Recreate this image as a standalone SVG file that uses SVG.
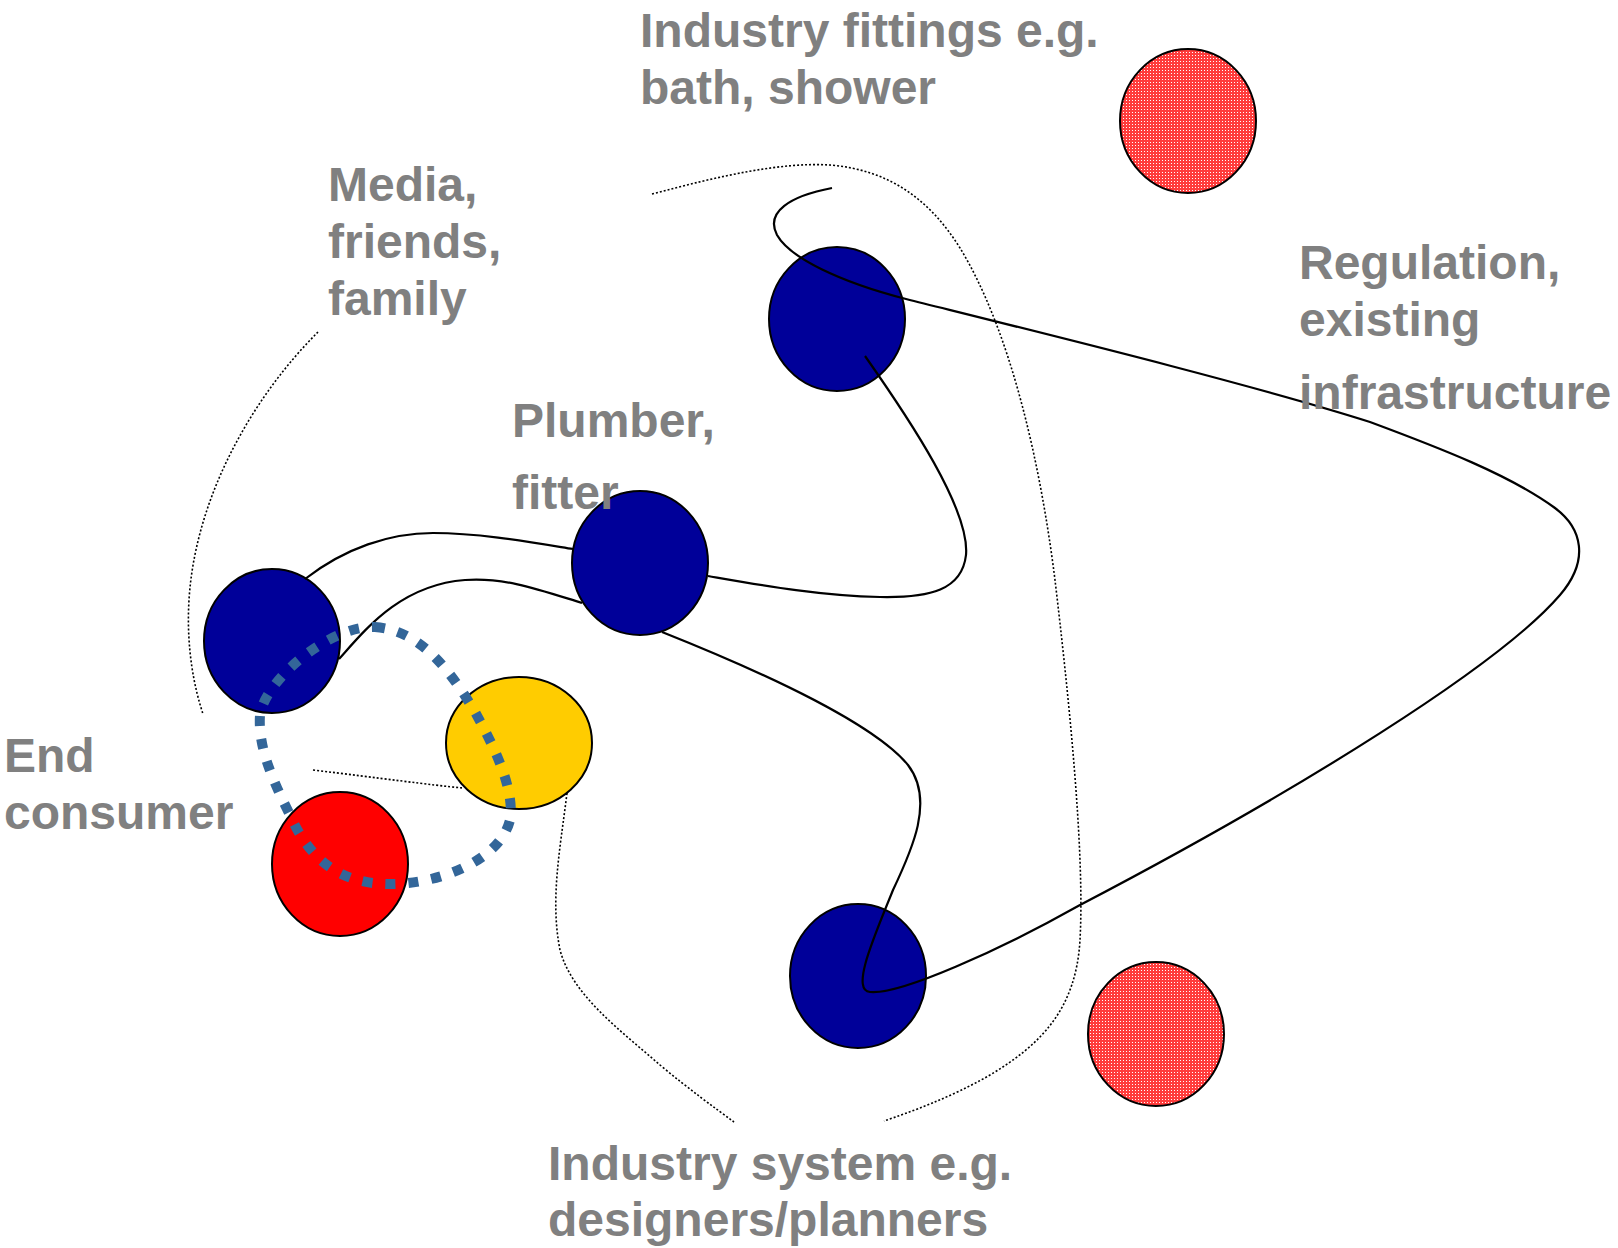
<svg xmlns="http://www.w3.org/2000/svg" width="1618" height="1248" viewBox="0 0 1618 1248">
  <defs>
    <!-- fine red/white checker used for the outer actors -->
    <pattern id="hatch" width="3" height="3" patternUnits="userSpaceOnUse">
      <rect width="3" height="3" fill="#ff3c3c"/>
      <rect x="1" y="1" width="1" height="1" fill="#ffffff"/>
    </pattern>
    <style>
      .lbl { font-family: "Liberation Sans", Arial, sans-serif; font-weight: bold; font-size: 48px; fill: #808080; }
      .node { stroke: #000; stroke-width: 2; }
      .actor { fill: #000099; }
      .outer { fill: url(#hatch); }
      .link { fill: none; stroke: #000; stroke-width: 2.2; }
      .bound { fill: none; stroke: #000; stroke-width: 1.6; stroke-dasharray: 2 2; }
      .circle-of-trust { fill: none; stroke: #336699; stroke-width: 10; stroke-dasharray: 10 13; }
    </style>
  </defs>
  <rect width="1618" height="1248" fill="#ffffff"/>

  <!-- dotted boundaries -->
  <g id="boundaries">
    <path class="bound" d="M318,332 C250,400 195,500 189,600 C186,650 195,690 203,714"/>
    <path class="bound" d="M652,194 C720,176 780,162 830,165 C890,170 930,200 960,248 C1010,330 1040,460 1055,580 C1068,690 1085,850 1080,940 C1076,1010 1040,1045 990,1075 C950,1098 910,1112 884,1121"/>
    <path class="bound" d="M313,770 C380,778 430,785 463,788"/>
    <path class="bound" d="M567,793 C560,850 550,900 560,950 C572,995 620,1030 660,1065 C690,1090 715,1108 734,1122"/>
  </g>

  <!-- actors -->
  <g id="fittings-node"><ellipse class="node outer" cx="1188" cy="121" rx="68" ry="72"/></g>
  <g id="system-outer-node"><ellipse class="node outer" cx="1156" cy="1034" rx="68" ry="72"/></g>
  <g id="fittings-maker"><ellipse class="node actor" cx="837" cy="319" rx="68" ry="72"/></g>
  <g id="plumber"><ellipse class="node actor" cx="640" cy="563" rx="68" ry="72"/></g>
  <g id="media"><ellipse class="node actor" cx="272" cy="641" rx="68" ry="72"/></g>
  <g id="system-designer"><ellipse class="node actor" cx="858" cy="976" rx="68" ry="72"/></g>
  <g id="consumer-partner"><ellipse class="node" fill="#ffcc00" cx="519" cy="743" rx="73" ry="66"/></g>
  <g id="end-consumer"><ellipse class="node" fill="#ff0000" cx="340" cy="864" rx="68" ry="72"/></g>

  <!-- connectors -->
  <g id="connectors">
    <path class="link" d="M305,579 C345,548 390,533 433,533 C480,533 530,542 573,549"/>
    <path class="link" d="M339,659 C365,630 400,585 465,580 C505,577 540,590 582,603"/>
    <path class="link" d="M865,356 C910,420 970,510 966,555 C962,590 930,598 880,597 C820,596 760,585 708,576"/>
    <path class="link" d="M662,632 C770,675 875,725 908,765 C935,800 912,850 893,890 C875,935 850,990 870,992 C900,995 1000,950 1080,905 C1300,790 1500,665 1560,595 C1590,560 1582,528 1555,508 C1510,475 1440,448 1370,422 C1250,384 1050,335 906,299 C840,282 790,258 777,235 C765,212 790,196 832,188"/>
  </g>

  <!-- consumer circle -->
  <g id="consumer-circle">
    <path class="circle-of-trust" d="M375,627 C420,630 450,670 475,712 C495,748 515,790 510,820 C500,860 440,884 390,884 C340,884 310,860 290,815 C270,775 258,745 260,715 C265,680 330,625 375,627 Z"/>
  </g>

  <!-- labels -->
  <g id="labels">
    <text class="lbl" x="640" y="47">Industry fittings e.g.</text>
    <text class="lbl" x="640" y="104">bath, shower</text>
    <text class="lbl" x="328" y="201">Media,</text>
    <text class="lbl" x="328" y="258">friends,</text>
    <text class="lbl" x="328" y="315">family</text>
    <text class="lbl" x="512" y="437">Plumber,</text>
    <text class="lbl" x="512" y="509">fitter</text>
    <text class="lbl" x="1299" y="279">Regulation,</text>
    <text class="lbl" x="1299" y="336">existing</text>
    <text class="lbl" x="1299" y="409">infrastructure</text>
    <text class="lbl" x="4" y="772">End</text>
    <text class="lbl" x="4" y="829">consumer</text>
    <text class="lbl" x="548" y="1180">Industry system e.g.</text>
    <text class="lbl" x="548" y="1236">designers/planners</text>
  </g>
</svg>
